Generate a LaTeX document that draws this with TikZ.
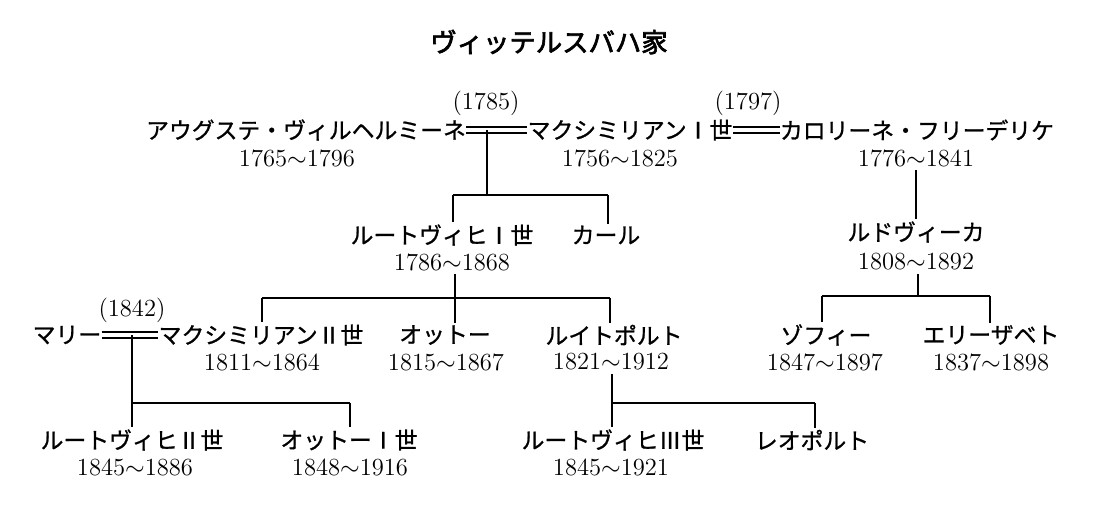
\documentclass[tikz,border=0pt]{standalone}
\usepackage{fontspec}
\newfontfamily\jpfont[FakeBold=1]{Noto Sans CJK JP}
\newfontfamily\jptitle[FakeBold=2.5]{Noto Sans CJK JP}
\usetikzlibrary{positioning,calc}
\tikzset{
  person/.style={font=\jpfont\fontsize{13pt}{15pt}\selectfont,inner sep=0pt},
  lifespan/.style={font=\fontsize{14pt}{16pt}\selectfont,inner sep=0pt},
  wedyear/.style={font=\fontsize{14pt}{16pt}\selectfont,inner sep=0pt},
  marriage/.style={double,double distance=2.6pt,line width=0.75pt},
  kin/.style={line width=0.9pt}
}
\newcommand{\yrs}[2]{#1$\sim$#2}

\begin{document}
\begin{tikzpicture}[x=0.02cm,y=-0.02cm]
  \useasboundingbox (0,0) rectangle (1107,509);
  \node[font=\jptitle\fontsize{15pt}{17pt}\selectfont,inner sep=0pt] (title) at (549,42)
    {ヴィッテルスバハ家};

  % first generation
  \node[person] (wilh) at (306,130) {アウグステ・ヴィルヘルミーネ};
  \node[lifespan] (wilhy) at (297,158) {\yrs{1765}{1796}};
  \node[person] (max1) at (630,130) {マクシミリアンⅠ世};
  \node[lifespan] (max1y) at (620,158) {\yrs{1756}{1825}};
  \node[person] (karo) at (917,130) {カロリーネ・フリーデリケ};
  \node[lifespan] (karoy) at (916,158) {\yrs{1776}{1841}};
  \node[wedyear] (wed1) at (486,103) {(1785)};
  \node[wedyear] (wed2) at (748,103) {(1797)};
  \draw[marriage] (wilh) -- (max1);
  \draw[marriage] (max1) -- (karo);

  % second generation
  \node[person] (ludw1) at (442,235) {ルートヴィヒⅠ世};
  \node[lifespan] (ludw1y) at (452,262) {\yrs{1786}{1868}};
  \node[person] (karl) at (606,235) {カール};
  \node[person] (ludo) at (916,232) {ルドヴィーカ};
  \node[lifespan] (ludoy) at (916,262) {\yrs{1808}{1892}};

  \coordinate (m1) at (487,130);
  \coordinate (b1l) at (453,195);
  \coordinate (b1r) at (608,195);
  \draw[kin] (m1) -- (m1 |- b1l);
  \draw[kin,shorten >=1pt] (b1l) -- (b1l |- ludw1.north);
  \draw[kin] (b1l) -- (b1r);
  \draw[kin,shorten >=1pt] (b1r) -- (b1r |- karl.north);
  \draw[kin,shorten <=2pt,shorten >=1pt] (karoy.south) -- (ludo.north);

  % third generation
  \node[person] (marie) at (67,335) {マリー};
  \node[person] (max2) at (261,335) {マクシミリアンⅡ世};
  \node[lifespan] (max2y) at (262,362) {\yrs{1811}{1864}};
  \node[wedyear] (wed3) at (132,310) {(1842)};
  \node[person] (otto) at (445,335) {オットー};
  \node[lifespan] (ottoy) at (446,362) {\yrs{1815}{1867}};
  \node[person] (luit) at (614,335) {ルイトポルト};
  \node[lifespan] (luity) at (611,362) {\yrs{1821}{1912}};
  \node[person] (sophie) at (826,335) {ゾフィー};
  \node[lifespan] (sophiey) at (825,362) {\yrs{1847}{1897}};
  \node[person] (elis) at (991,335) {エリーザベト};
  \node[lifespan] (elisy) at (991,362) {\yrs{1837}{1898}};
  \draw[marriage] (marie) -- (max2);

  \coordinate (b2l) at (262,298);
  \coordinate (b2m) at (455,298);
  \coordinate (b2r) at (610,298);
  \draw[kin,shorten <=2pt] (b2m |- ludw1y.south) -- (b2m);
  \draw[kin] (b2l) -- (b2r);
  \foreach \t/\n in {b2l/max2,b2m/otto,b2r/luit}
    \draw[kin,shorten >=1pt] (\t) -- (\t |- \n.north);

  \coordinate (b3l) at (822,296);
  \coordinate (b3m) at (918,296);
  \coordinate (b3r) at (990,296);
  \draw[kin,shorten <=2pt] (b3m |- ludoy.south) -- (b3m);
  \draw[kin] (b3l) -- (b3r);
  \draw[kin,shorten >=1pt] (b3l) -- (b3l |- sophie.north);
  \draw[kin,shorten >=1pt] (b3r) -- (b3r |- elis.north);

  % fourth generation
  \node[person] (ludw2) at (132,440) {ルートヴィヒⅡ世};
  \node[lifespan] (ludw2y) at (135,467) {\yrs{1845}{1886}};
  \node[person] (otto1) at (349,440) {オットーⅠ世};
  \node[lifespan] (otto1y) at (350,467) {\yrs{1848}{1916}};
  \node[person] (ludw3) at (613,440) {ルートヴィヒⅢ世};
  \node[lifespan] (ludw3y) at (611,467) {\yrs{1845}{1921}};
  \node[person] (leop) at (812,440) {レオポルト};

  \coordinate (m3) at (132,335);
  \coordinate (b4r) at (350,403);
  \draw[kin,shorten >=1pt] (m3) -- (m3 |- ludw2.north);
  \draw[kin] (m3 |- b4r) -- (b4r);
  \draw[kin,shorten >=1pt] (b4r) -- (b4r |- otto1.north);

  \coordinate (b5l) at (612,403);
  \coordinate (b5r) at (815,403);
  \draw[kin,shorten <=2pt,shorten >=1pt] (b5l |- luity.south) -- (b5l |- ludw3.north);
  \draw[kin] (b5l) -- (b5r);
  \draw[kin,shorten >=1pt] (b5r) -- (b5r |- leop.north);
\end{tikzpicture}
\end{document}
